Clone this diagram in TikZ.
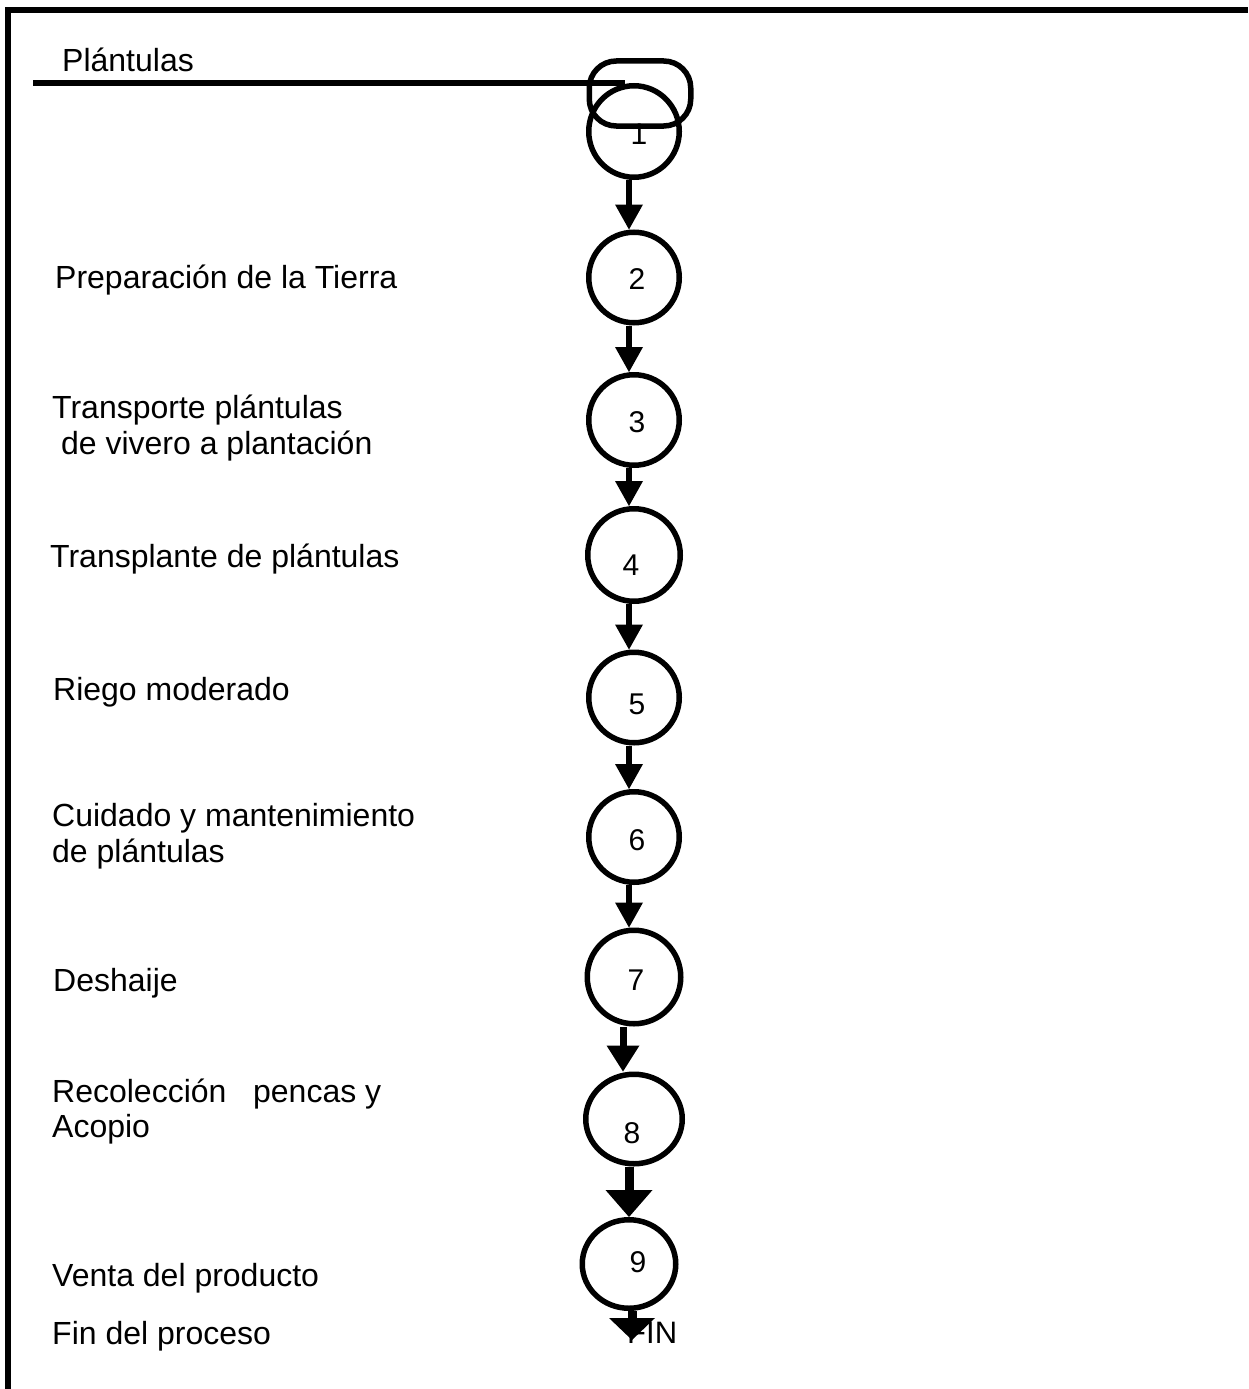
\documentclass[tikz,border=0pt]{standalone}
\usepackage{fontspec}
\setmainfont{Liberation Sans}
\usetikzlibrary{arrows.meta,shapes.geometric}
\begin{document}
\begin{tikzpicture}[x=1pt,y=-1pt,
  lbl/.style={anchor=base west, inner sep=0pt, font=\fontsize{32}{36}\selectfont},
  num/.style={anchor=base, inner sep=0pt, font=\fontsize{30}{36}\selectfont},
  stage/.style={draw, ellipse, line width=5.5pt, inner sep=0pt},
  flow/.style={line width=6pt, -{Triangle[width=28pt,length=25pt,line width=0pt]}},
  frame/.style={line width=6pt}
]
\useasboundingbox (0,0) rectangle (1248,1389);
\fill[white] (0,0) rectangle (1248,1389);
% frame
\draw[frame] (8,1389) -- (8,10.5) -- (1248,10.5);

% stages
\node[stage, minimum width=90.5pt, minimum height=91.5pt] (c1) at (634,131.5) {};
\node[stage, minimum width=90.5pt, minimum height=90.5pt] (c2) at (634,277.5) {};
\node[stage, minimum width=90.5pt, minimum height=90.5pt] (c3) at (634,420) {};
\node[stage, minimum width=92.5pt, minimum height=92.5pt] (c4) at (634,555) {};
\node[stage, minimum width=90.5pt, minimum height=90.5pt] (c5) at (634,697.5) {};
\node[stage, minimum width=90.5pt, minimum height=90.5pt] (c6) at (634,837) {};
\node[stage, minimum width=93.5pt, minimum height=93.5pt] (c7) at (634,977) {};
\node[stage, minimum width=96.5pt, minimum height=89.5pt] (c8) at (634,1119) {};
\node[stage, minimum width=93.5pt, minimum height=88.5pt] (c9) at (629,1264) {};

% numbers
\node[num] (n1) at (639,144) {1};
\node[num] (n2) at (637,289) {2};
\node[num] (n3) at (637,432) {3};
\node[num] (n4) at (631,575) {4};
\node[num] (n5) at (637,714) {5};
\node[num] (n6) at (637,850) {6};
\node[num] (n7) at (636,990) {7};
\node[num] (n8) at (632,1143) {8};
\node[num] (n9) at (638,1272) {9};

% entry store and line
\node[draw, line width=5.5pt, rounded corners=27pt, minimum width=101.5pt, minimum height=65pt, inner sep=0pt] (store) at (640,93.5) {};
\coordinate (inStart) at (33,83);
\coordinate (inEnd) at (625,83);
\draw[line width=5.5pt] (inStart) -- (inEnd);

% arrows
\draw[flow] ([xshift=-5pt]c1.south) -- ([xshift=-5pt]c2.north);
\draw[flow] ([xshift=-5pt]c2.south) -- ([xshift=-5pt]c3.north);
\draw[flow] ([xshift=-5pt]c3.south) -- ([xshift=-5pt]c4.north);
\draw[flow] ([xshift=-5pt]c4.south) -- ([xshift=-5pt]c5.north);
\draw[flow] ([xshift=-5pt]c5.south) -- ([xshift=-5pt]c6.north);
\draw[flow] ([xshift=-5pt]c6.south) -- ([xshift=-5pt]c7.north);
\draw[line width=7pt, -{Triangle[width=33pt,length=26pt,line width=0pt]}] ([xshift=-11pt]c7.south) -- ([xshift=-11pt]c8.north);
\draw[line width=9pt, -{Triangle[width=47pt,length=27pt,line width=0pt]}] ([xshift=-5pt]c8.south) -- (c9.north);
\coordinate (finTip) at (632,1340);
\draw[line width=9pt, -{Triangle[width=46pt,length=22pt,line width=0pt]}] ([xshift=3pt]c9.south) -- (finTip);
\node[anchor=base west, inner sep=0pt, font=\fontsize{31}{36}\selectfont] (fin) at (627,1343) {FIN};

% labels
\node[lbl] (l0) at (62,71) {Plántulas};
\node[lbl] (l2) at (55,288) {Preparación de la Tierra};
\node[lbl] (l3a) at (52,418) {Transporte plántulas};
\node[lbl] (l3b) at (52,454) {\ de vivero a plantación};
\node[lbl] (l4) at (50,567) {Transplante de plántulas};
\node[lbl] (l5) at (53,700) {Riego moderado};
\node[lbl] (l6a) at (52,826) {Cuidado y mantenimiento};
\node[lbl] (l6b) at (52,862) {de plántulas};
\node[lbl] (l7) at (53,991) {Deshaije};
\node[lbl] (l8a) at (52,1102) {Recolección\ \ \ pencas y};
\node[lbl] (l8b) at (52,1137) {Acopio};
\node[lbl] (l9) at (52,1286) {Venta del producto};
\node[lbl] (l10) at (52,1344) {Fin del proceso};
\end{tikzpicture}
\end{document}
